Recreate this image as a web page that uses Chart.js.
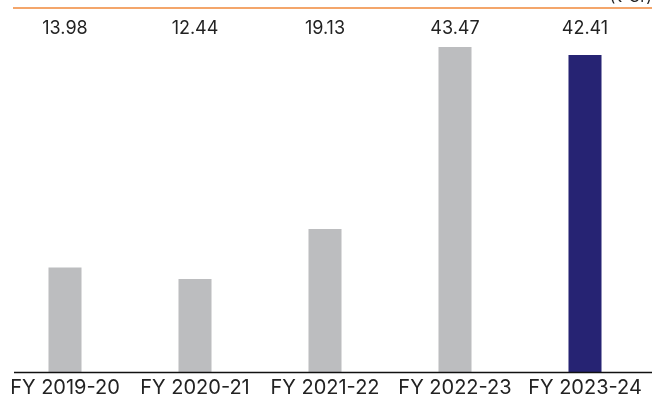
<!DOCTYPE html>
<html>
<head>
<meta charset="utf-8">
<script src="https://cdn.jsdelivr.net/npm/chart.js@4"></script>
<style>
  html, body { margin: 0; padding: 0; background: #ffffff; }
  #wrap { width: 658px; height: 403px; position: relative; }
</style>
</head>
<body>
<div id="wrap"><canvas id="myChart"></canvas></div>
<script>
const years = ["FY 2019-20", "FY 2020-21", "FY 2021-22", "FY 2022-23", "FY 2023-24"];
const values = [13.98, 12.44, 19.13, 43.47, 42.41];
const barColors = ["#bcbdbf", "#bcbdbf", "#bcbdbf", "#bcbdbf", "#262373"];
const unitText = "(₹ Cr)";

const fontName = "Inter, 'Noto Sans', sans-serif";

// orange rule at top, clipped unit text, base line and the value labels above the bars
const topDecor = {
  id: "topDecor",
  afterDraw(chart) {
    const ctx = chart.ctx;
    const xScale = chart.scales.x;
    const yScale = chart.scales.y;
    ctx.save();
    ctx.strokeStyle = "#f0883a";
    ctx.lineWidth = 1.5;
    ctx.beginPath();
    ctx.moveTo(13, 8);
    ctx.lineTo(652, 8);
    ctx.stroke();

    const base = Math.round(yScale.getPixelForValue(0)) + 0.5;
    ctx.strokeStyle = "#111111";
    ctx.lineWidth = 1.5;
    ctx.beginPath();
    ctx.moveTo(14, base);
    ctx.lineTo(652, base);
    ctx.stroke();

    ctx.fillStyle = "#222222";
    ctx.font = "16px " + fontName;
    ctx.textAlign = "right";
    ctx.textBaseline = "alphabetic";
    ctx.fillText(unitText, 652, 2);

    ctx.font = "18px " + fontName;
    ctx.textAlign = "center";
    ctx.textBaseline = "middle";
    values.forEach((v, i) => {
      ctx.fillText(v.toFixed(2), xScale.getPixelForValue(i), 29);
    });
    ctx.restore();
  },
};

function createChart() {
  const data = {
    labels: years,
    datasets: [
      {
        label: "Value",
        backgroundColor: barColors,
        data: values,
        barPercentage: 0.254,
        categoryPercentage: 1,
      },
    ],
  };

  const config = {
    type: "bar",
    data,
    options: {
      responsive: true,
      maintainAspectRatio: false,
      animation: false,
      layout: { padding: { top: 47, right: 8, left: 0, bottom: 0 } },
      plugins: { legend: { display: false }, tooltip: { enabled: false } },
      scales: {
        y: { display: false, min: 0, max: 43.47 },
        x: {
          grid: { display: false, drawTicks: false },
          border: { display: false },
          ticks: {
            color: "#222222",
            padding: 5,
            font: { family: fontName, size: 20, lineHeight: 1.05 },
            maxRotation: 0,
            autoSkip: false,
          },
        },
      },
    },
    plugins: [topDecor],
  };
  new Chart(document.getElementById("myChart"), config);
}

document.addEventListener("DOMContentLoaded", () => {
  createChart();
});
</script>
</body>
</html>
